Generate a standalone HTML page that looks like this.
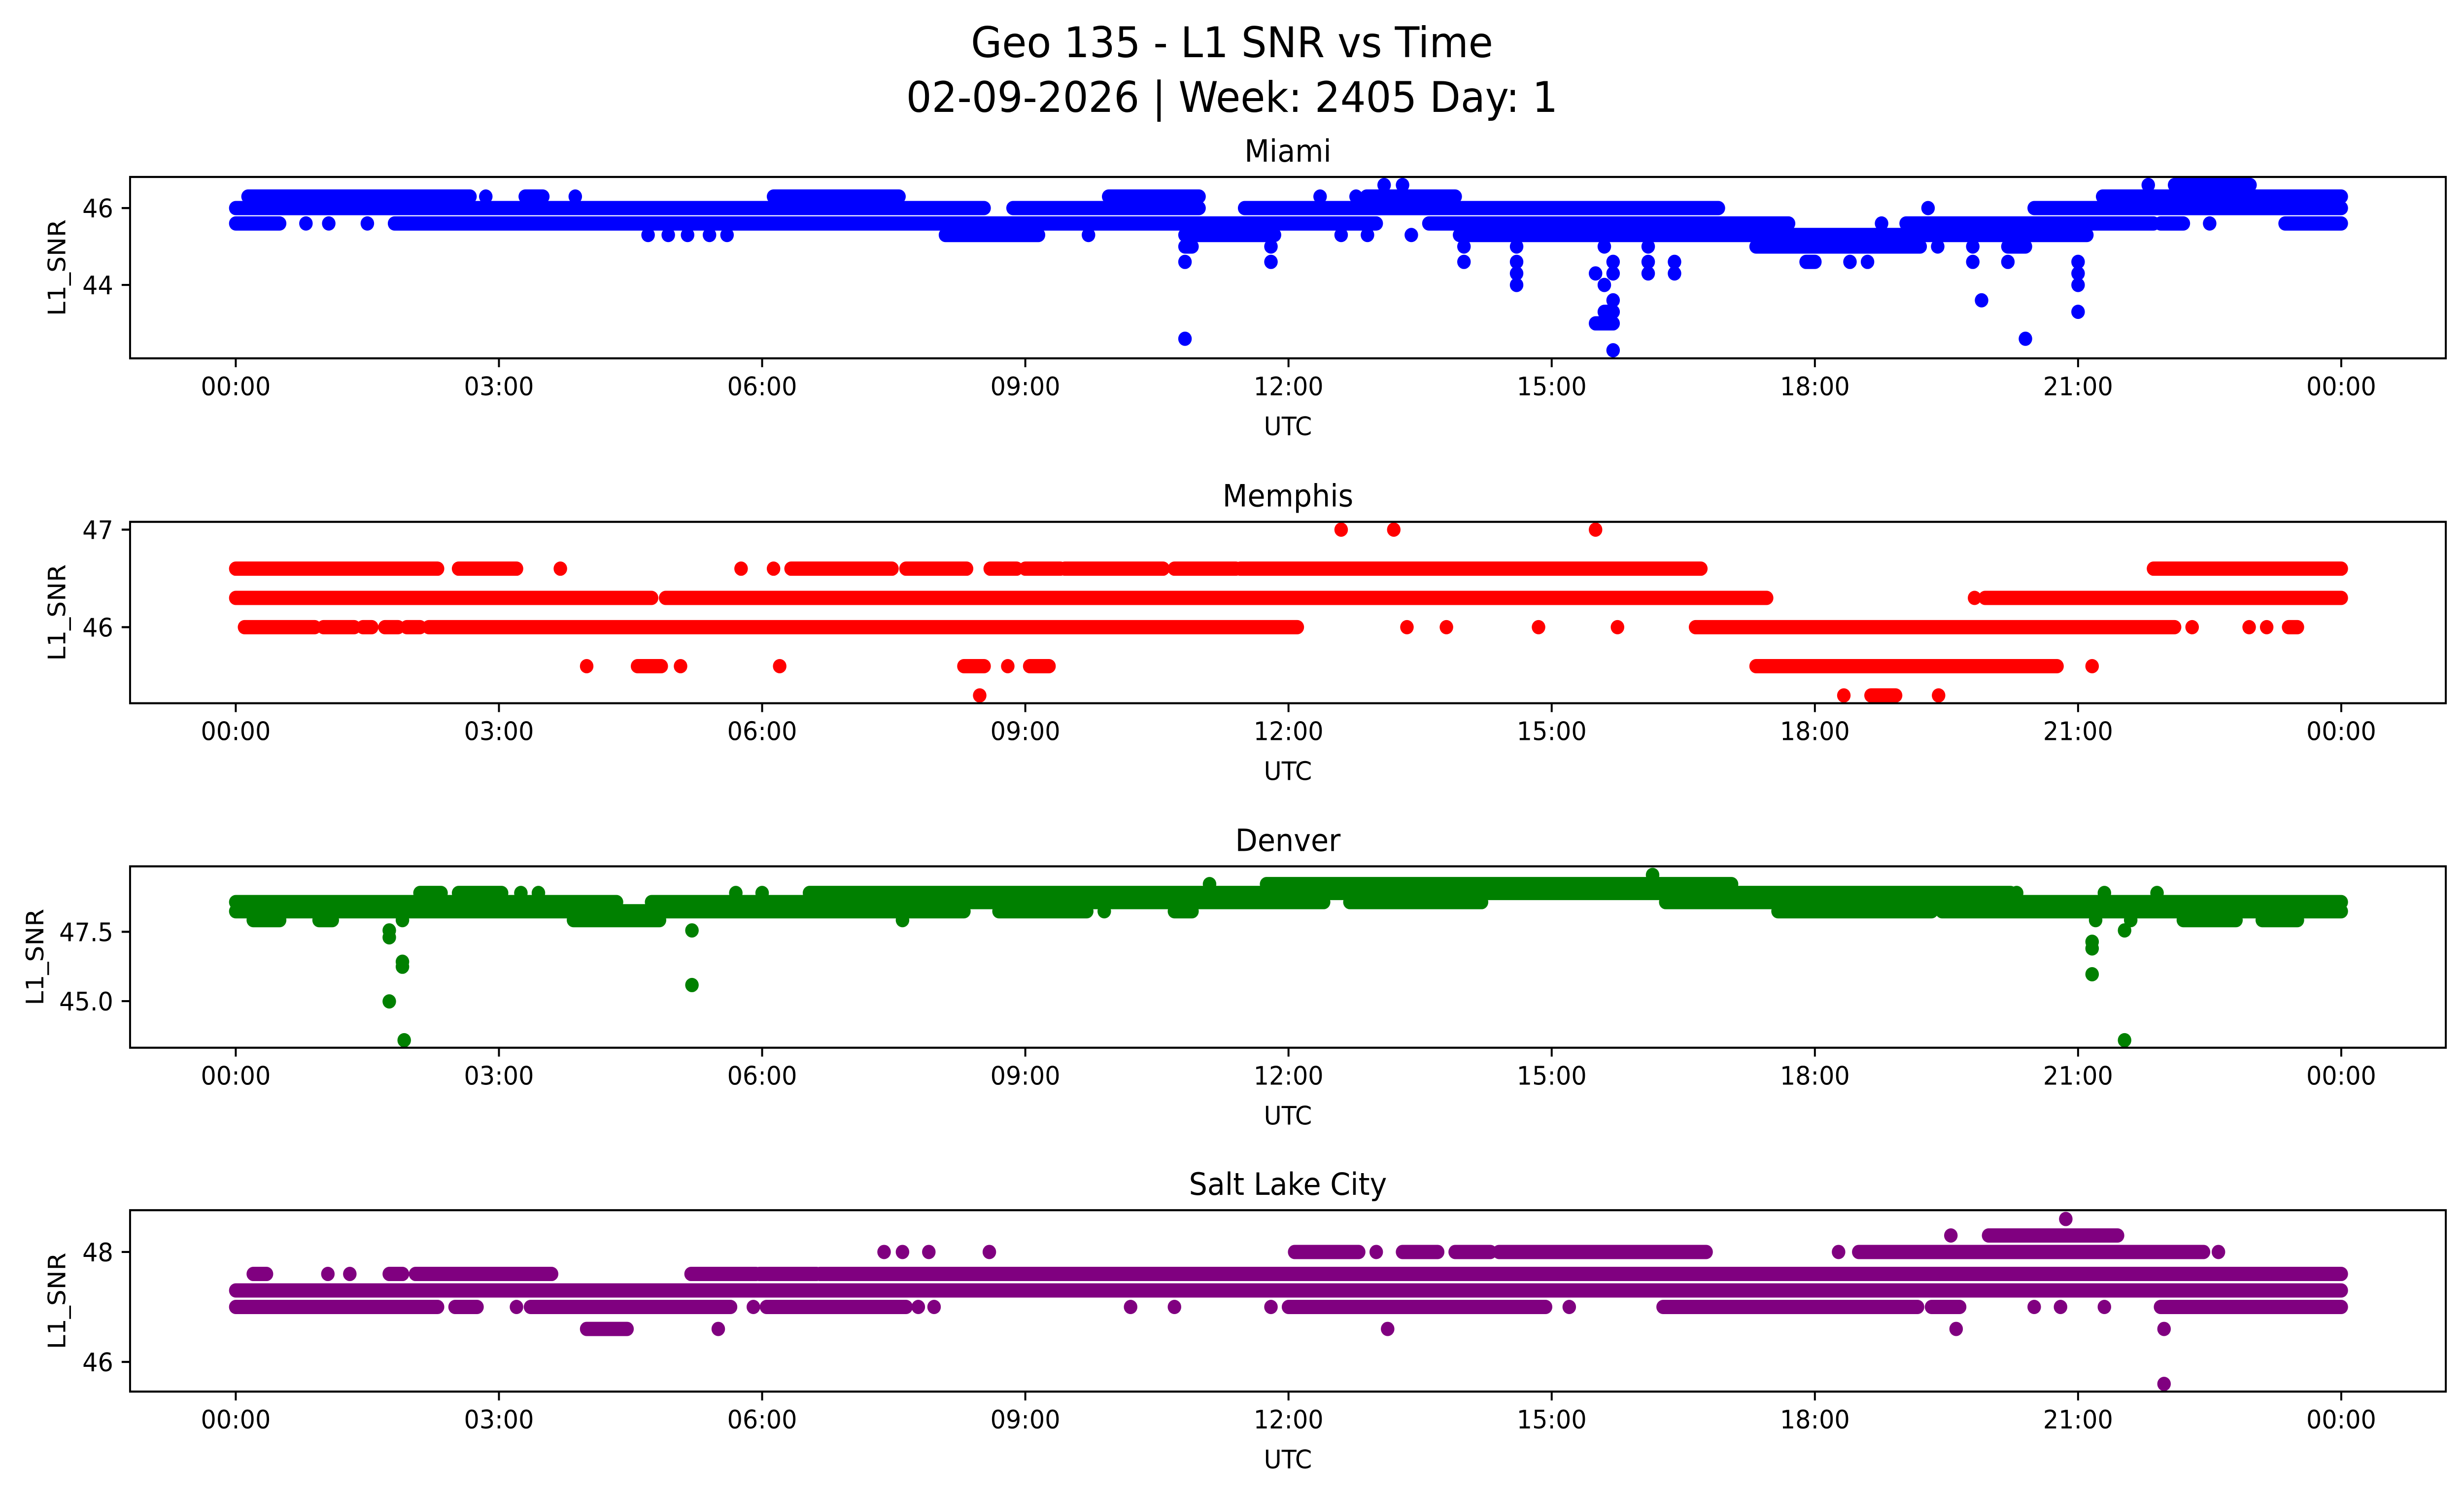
<!DOCTYPE html>
<html><head><meta charset="utf-8">
<style>
html,body{margin:0;padding:0;background:#fff;width:100%;height:100%;overflow:hidden;}
svg{display:block;position:absolute;left:0;top:0;width:100vw;height:100vh;}
text{font-family:"DejaVu Sans","Liberation Sans",sans-serif;fill:#000;}
</style></head>
<body>
<svg id="fig" viewBox="0 0 5278 3033" preserveAspectRatio="none" xmlns="http://www.w3.org/2000/svg">
<rect x="0" y="0" width="5278" height="3033" fill="#fff"/>
<text x="2639" y="116" font-size="86" text-anchor="middle">Geo 135 - L1 SNR vs Time</text>
<text x="2639" y="227" font-size="86" text-anchor="middle">02-09-2026 | Week: 2405 Day: 1</text>
<g id="plots"></g>
</svg>
<script>
// ---- data: runs of [startHour, endHour, L1_SNR] (single points: start == end)
const miamiRuns = [
[13.09,13.09,46.6],[13.3,13.3,46.6],[21.8,21.8,46.6],[22.1,22.96,46.6],
[0.14,2.67,46.3],[2.85,2.85,46.3],[3.3,3.5,46.3],[3.87,3.87,46.3],[6.13,7.56,46.3],[9.95,10.98,46.3],[12.36,12.36,46.3],[12.77,12.77,46.3],[12.89,13.9,46.3],[21.28,24,46.3],
[0,8.53,46.0],[8.86,10.98,46.0],[11.5,16.9,46.0],[19.29,19.29,46.0],[20.5,24,46.0],
[0,0.5,45.6],[0.8,0.8,45.6],[1.06,1.06,45.6],[1.5,1.5,45.6],[1.81,13.0,45.6],[13.6,17.7,45.6],[18.76,18.76,45.6],[19.04,21.86,45.6],[21.94,22.2,45.6],[22.5,22.5,45.6],[23.36,24,45.6],
[4.7,4.7,45.3],[4.93,4.93,45.3],[5.15,5.15,45.3],[5.4,5.4,45.3],[5.6,5.6,45.3],[8.09,9.15,45.3],[9.72,9.72,45.3],[10.82,11.84,45.3],[12.6,12.6,45.3],[12.9,12.9,45.3],[13.4,13.4,45.3],[13.95,21.1,45.3],
[10.82,10.9,45.0],[11.8,11.8,45.0],[14.0,14.0,45.0],[14.6,14.6,45.0],[15.6,15.6,45.0],[16.1,16.1,45.0],[17.33,19.2,45.0],[19.4,19.4,45.0],[19.8,19.8,45.0],[20.2,20.4,45.0],
[10.82,10.82,44.6],[11.8,11.8,44.6],[14.0,14.0,44.6],[14.6,14.6,44.6],[15.7,15.7,44.6],[16.1,16.1,44.6],[16.4,16.4,44.6],[17.9,18.0,44.6],[18.4,18.4,44.6],[18.6,18.6,44.6],[19.8,19.8,44.6],[20.2,20.2,44.6],[21.0,21.0,44.6],
[14.6,14.6,44.3],[15.5,15.5,44.3],[15.7,15.7,44.3],[16.1,16.1,44.3],[16.4,16.4,44.3],[21.0,21.0,44.3],
[14.6,14.6,44.0],[15.6,15.6,44.0],[21.0,21.0,44.0],
[15.7,15.7,43.6],[19.9,19.9,43.6],
[15.6,15.7,43.3],[21.0,21.0,43.3],
[15.5,15.7,43.0],
[10.82,10.82,42.6],[20.4,20.4,42.6],
[15.7,15.7,42.3]
];
const memphisRuns = [
[12.6,12.6,47.0],[13.2,13.2,47.0],[15.5,15.5,47.0],
[0,2.3,46.6],[2.54,3.2,46.6],[3.7,3.7,46.6],[5.76,5.76,46.6],[6.13,6.13,46.6],[6.33,7.48,46.6],[7.64,8.33,46.6],[8.6,8.9,46.6],[9.0,9.4,46.6],[9.45,10.57,46.6],[10.7,11.4,46.6],[11.45,16.7,46.6],[21.86,24,46.6],
[0,4.74,46.3],[4.9,17.45,46.3],[19.82,19.82,46.3],[19.94,24,46.3],
[0.1,0.9,46.0],[1.0,1.35,46.0],[1.45,1.55,46.0],[1.7,1.85,46.0],[1.95,2.1,46.0],[2.2,12.1,46.0],[13.35,13.35,46.0],[13.8,13.8,46.0],[14.85,14.85,46.0],[15.75,15.75,46.0],[16.64,22.1,46.0],[22.3,22.3,46.0],[22.95,22.95,46.0],[23.15,23.15,46.0],[23.4,23.5,46.0],
[4.0,4.0,45.6],[4.58,4.85,45.6],[5.07,5.07,45.6],[6.2,6.2,45.6],[8.3,8.53,45.6],[8.8,8.8,45.6],[9.05,9.27,45.6],[17.33,20.76,45.6],[21.16,21.16,45.6],
[8.48,8.48,45.3],[18.33,18.33,45.3],[18.64,18.92,45.3],[19.41,19.41,45.3]
];
const denverRuns = [
[16.15,16.15,49.55],
[11.1,11.1,49.22],[11.75,17.05,49.22],
[2.1,2.34,48.9],[2.54,3.03,48.9],[3.25,3.25,48.9],[3.45,3.45,48.9],[5.7,5.7,48.9],[6.0,6.0,48.9],[6.54,20.23,48.9],[20.3,20.3,48.9],[21.3,21.3,48.9],[21.9,21.9,48.9],
[0,4.34,48.57],[4.74,12.4,48.57],[12.7,14.2,48.57],[16.3,24,48.57],
[0,8.3,48.24],[8.7,9.7,48.24],[9.9,9.9,48.24],[10.7,10.9,48.24],[17.58,19.33,48.24],[19.45,24,48.24],
[0.2,0.5,47.92],[0.95,1.1,47.92],[1.9,1.9,47.92],[3.85,4.83,47.92],[7.6,7.6,47.92],[21.2,21.2,47.92],[21.6,21.6,47.92],[22.2,22.8,47.92],[23.1,23.5,47.92],
[1.75,1.75,47.55],[5.2,5.2,47.55],[21.53,21.53,47.55],[1.75,1.75,47.3],[21.16,21.16,47.14],[21.16,21.16,46.9],
[1.9,1.9,46.42],[1.9,1.9,46.24],[21.16,21.16,45.97],[5.2,5.2,45.58],[1.75,1.75,44.99],[1.92,1.92,43.59],[21.53,21.53,43.59]
];
const slcRuns = [
[20.86,20.86,48.6],
[19.55,19.55,48.3],[19.98,21.45,48.3],
[7.39,7.39,48.0],[7.6,7.6,48.0],[7.9,7.9,48.0],[8.59,8.59,48.0],[12.07,12.8,48.0],[13.0,13.0,48.0],[13.3,13.7,48.0],[13.9,14.3,48.0],[14.4,16.76,48.0],[18.27,18.27,48.0],[18.5,22.43,48.0],[22.6,22.6,48.0],
[0.2,0.35,47.6],[1.05,1.05,47.6],[1.3,1.3,47.6],[1.75,1.9,47.6],[2.05,3.6,47.6],[5.19,5.93,47.6],[5.97,6.62,47.6],[6.66,24,47.6],
[0,24,47.3],
[0,2.3,47.0],[2.5,2.75,47.0],[3.2,3.2,47.0],[3.36,5.64,47.0],[5.9,5.9,47.0],[6.05,7.64,47.0],[7.78,7.78,47.0],[7.96,7.96,47.0],[10.2,10.2,47.0],[10.7,10.7,47.0],[11.8,11.8,47.0],[12,14.93,47.0],[15.2,15.2,47.0],[16.27,19.17,47.0],[19.33,19.65,47.0],[20.5,20.5,47.0],[20.8,20.8,47.0],[21.3,21.3,47.0],[21.94,24,47.0],
[4.0,4.46,46.6],[5.5,5.5,46.6],[13.13,13.13,46.6],[19.61,19.61,46.6],[21.98,21.98,46.6],
[21.98,21.98,45.6]
];
const stationNames = ["Miami","Memphis","Denver","Salt Lake City"];
const stationColors = ["#0000ff","#ff0000","#008000","#800080"];
const yTickValues = [[44,46],[46,47],[45.0,47.5],[46,48]];
const yTickLabels = [["44","46"],["46","47"],["45.0","47.5"],["46","48"]];
const yLimits = [[42.09,46.81],[45.22,47.08],[43.32,49.86],[45.46,48.76]];
const xTickHours = [0,3,6,9,12,15,18,21,24];
const xTickLabels = ["00:00","03:00","06:00","09:00","12:00","15:00","18:00","21:00","00:00"];

const allRuns = [miamiRuns, memphisRuns, denverRuns, slcRuns];
const NS = "http://www.w3.org/2000/svg";
const plots = document.getElementById('plots');
const AX_L = 278.6, AX_R = 5239, AX_H = 368;
const AX_TOPS = [359, 1058.7, 1757.6, 2455.2];
const X0 = 505, PX_PER_H = 187.92;
const MR = 14.5;
function xs(h){ return X0 + h*PX_PER_H; }
function mk(tag, attrs){ const e=document.createElementNS(NS,tag); for(const k in attrs) e.setAttribute(k,attrs[k]); return e; }

allRuns.forEach((runs, i) => {
  const top = AX_TOPS[i], bot = top + AX_H;
  const [ymin, ymax] = yLimits[i];
  const ys = v => bot - (v - ymin)/(ymax - ymin)*AX_H;
  const slug = stationNames[i].toLowerCase().replace(/ /g,'-');
  const g = mk('g',{});
  
  
  plots.appendChild(g);

  const title = mk('text',{x:(AX_L+AX_R)/2, y:top-31, 'font-size':62, 'text-anchor':'middle'});
  title.textContent = stationNames[i];
  
  
  g.appendChild(title);

  const cp = mk('clipPath',{id:'clip'+i});
  cp.appendChild(mk('rect',{x:AX_L, y:top, width:AX_R-AX_L, height:AX_H}));
  g.appendChild(cp);
  const marks = mk('g',{'clip-path':'url(#clip'+i+')', fill:stationColors[i], stroke:stationColors[i]});
  
  
  g.appendChild(marks);
  runs.forEach(r => {
    let el;
    if (r[0] === r[1]) {
      el = mk('circle',{cx:xs(r[0]), cy:ys(r[2]), r:MR, stroke:'none'});
    } else {
      el = mk('line',{x1:xs(r[0]), y1:ys(r[2]), x2:xs(r[1]), y2:ys(r[2]), 'stroke-width':MR*2, 'stroke-linecap':'round'});
    }
    
    
    marks.appendChild(el);
  });

  const frame = mk('rect',{x:AX_L, y:top, width:AX_R-AX_L, height:AX_H, fill:'none', stroke:'#000', 'stroke-width':4.2});
  
  
  g.appendChild(frame);

  xTickHours.forEach((h, k) => {
    const x = xs(h);
    const t = mk('line',{x1:x, y1:bot, x2:x, y2:bot+18, stroke:'#000', 'stroke-width':4.2});
    
    
    g.appendChild(t);
    const lb = mk('text',{x:x, y:bot+75, 'font-size':52, 'text-anchor':'middle'});
    lb.textContent = xTickLabels[k];
    
    
    g.appendChild(lb);
  });
  const xl = mk('text',{x:(AX_L+AX_R)/2, y:bot+156, 'font-size':52, 'text-anchor':'middle'});
  xl.textContent = 'UTC';
  
  
  g.appendChild(xl);

  yTickValues[i].forEach((v, k) => {
    const y = ys(v);
    const t = mk('line',{x1:AX_L-18, y1:y, x2:AX_L, y2:y, stroke:'#000', 'stroke-width':4.2});
    
    
    g.appendChild(t);
    const lb = mk('text',{x:AX_L-36, y:y+19, 'font-size':52, 'text-anchor':'end'});
    lb.textContent = yTickLabels[i][k];
    
    
    g.appendChild(lb);
  });
  const ylx = (i === 2) ? 93 : 140;
  const yc = top + AX_H/2;
  const yl = mk('text',{x:ylx, y:yc, 'font-size':52, 'text-anchor':'middle', transform:'rotate(-90 '+ylx+' '+yc+')'});
  yl.textContent = 'L1_SNR';
  
  
  g.appendChild(yl);
});
</script>
</body></html>
